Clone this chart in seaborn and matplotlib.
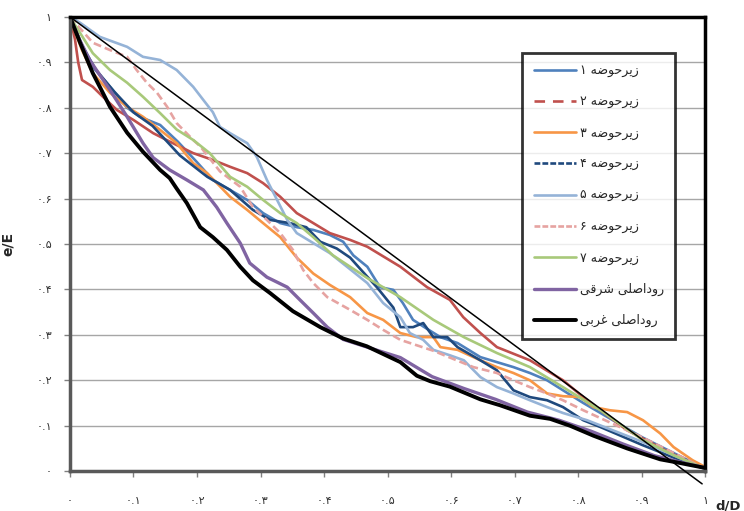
import matplotlib
matplotlib.use('Agg')
import matplotlib.pyplot as plt
from matplotlib.lines import Line2D
import seaborn as sns

# Series, x = d/D, y = e/E
x_s1 = [0, 0.018, 0.036, 0.063, 0.09, 0.11, 0.142, 0.17, 0.2, 0.225, 0.252, 0.279, 0.304, 0.331, 0.357,
        0.383, 0.409, 0.43, 0.446, 0.468, 0.488, 0.509, 0.524, 0.54, 0.56, 0.583, 0.61, 0.646, 0.698,
        0.724, 0.751, 0.776, 0.808, 0.835, 0.9, 0.95, 1.0]
y_s1 = [1, 0.94, 0.89, 0.846, 0.80, 0.78, 0.762, 0.725, 0.68, 0.641, 0.619, 0.597, 0.568, 0.546, 0.537,
        0.531, 0.52, 0.505, 0.475, 0.45, 0.405, 0.399, 0.37, 0.333, 0.315, 0.295, 0.282, 0.251, 0.229,
        0.216, 0.2, 0.178, 0.15, 0.128, 0.075, 0.04, 0.005]

x_s2 = [0, 0.008, 0.013, 0.019, 0.036, 0.052, 0.074, 0.1, 0.131, 0.162, 0.194, 0.225, 0.252, 0.279,
        0.304, 0.331, 0.357, 0.383, 0.409, 0.441, 0.468, 0.52, 0.562, 0.598, 0.619, 0.646, 0.672, 0.724,
        0.776, 0.814, 0.835, 0.877, 0.945, 1.0]
y_s2 = [1, 0.95, 0.9, 0.861, 0.846, 0.824, 0.795, 0.773, 0.744, 0.722, 0.70, 0.685, 0.67, 0.656,
        0.634, 0.604, 0.568, 0.546, 0.524, 0.509, 0.494, 0.45, 0.405, 0.377, 0.339, 0.304, 0.273, 0.244,
        0.2, 0.156, 0.134, 0.09, 0.04, 0.005]

x_s3 = [0, 0.018, 0.036, 0.063, 0.09, 0.115, 0.142, 0.168, 0.194, 0.216, 0.252, 0.279, 0.304, 0.331,
        0.357, 0.383, 0.409, 0.441, 0.468, 0.493, 0.52, 0.546, 0.572, 0.583, 0.61, 0.646, 0.672, 0.698,
        0.724, 0.751, 0.776, 0.803, 0.824, 0.85, 0.877, 0.902, 0.929, 0.95, 0.98, 1.0]
y_s3 = [1, 0.93, 0.876, 0.833, 0.802, 0.78, 0.751, 0.722, 0.678, 0.656, 0.604, 0.575, 0.546, 0.515,
        0.47, 0.435, 0.41, 0.383, 0.348, 0.333, 0.304, 0.295, 0.295, 0.273, 0.267, 0.244, 0.229, 0.216,
        0.2, 0.171, 0.165, 0.163, 0.141, 0.134, 0.13, 0.112, 0.083, 0.053, 0.024, 0.009]

x_s4 = [0, 0.02, 0.04, 0.07, 0.1, 0.13, 0.173, 0.216, 0.252, 0.288, 0.315, 0.346, 0.372, 0.394, 0.42,
        0.441, 0.457, 0.483, 0.509, 0.52, 0.54, 0.556, 0.572, 0.594, 0.61, 0.646, 0.672, 0.698, 0.724,
        0.751, 0.776, 0.808, 0.835, 0.9, 0.95, 1.0]
y_s4 = [1, 0.935, 0.885, 0.835, 0.79, 0.76, 0.695, 0.648, 0.619, 0.575, 0.553, 0.546, 0.537, 0.505, 0.49,
        0.47, 0.445, 0.405, 0.36, 0.317, 0.317, 0.326, 0.295, 0.295, 0.273, 0.244, 0.222, 0.178, 0.163,
        0.156, 0.141, 0.112, 0.097, 0.058, 0.03, 0.005]

x_s5 = [0, 0.016, 0.047, 0.09, 0.115, 0.142, 0.168, 0.194, 0.21, 0.225, 0.236, 0.252, 0.279, 0.294,
        0.31, 0.326, 0.342, 0.357, 0.383, 0.409, 0.436, 0.468, 0.493, 0.52, 0.535, 0.556, 0.572, 0.598,
        0.62, 0.646, 0.672, 0.698, 0.724, 0.751, 0.776, 0.814, 0.9, 0.95, 1.0]
y_s5 = [1, 0.987, 0.956, 0.934, 0.912, 0.905, 0.883, 0.846, 0.817, 0.79, 0.758, 0.744, 0.722, 0.692,
        0.641, 0.597, 0.553, 0.524, 0.502, 0.48, 0.45, 0.414, 0.37, 0.339, 0.304, 0.289, 0.267, 0.255,
        0.244, 0.207, 0.185, 0.171, 0.156, 0.141, 0.128, 0.112, 0.065, 0.035, 0.005]

x_s6 = [0, 0.036, 0.063, 0.09, 0.105, 0.121, 0.137, 0.153, 0.168, 0.194, 0.205, 0.236, 0.268, 0.288,
        0.31, 0.331, 0.351, 0.367, 0.383, 0.405, 0.441, 0.468, 0.493, 0.52, 0.572, 0.598, 0.635, 0.672,
        0.698, 0.724, 0.751, 0.776, 0.808, 0.9, 0.95, 1.0]
y_s6 = [1, 0.943, 0.927, 0.912, 0.883, 0.855, 0.833, 0.802, 0.766, 0.729, 0.715, 0.66, 0.626, 0.581,
        0.553, 0.524, 0.487, 0.443, 0.414, 0.383, 0.355, 0.333, 0.311, 0.289, 0.265, 0.25, 0.229, 0.216,
        0.2, 0.185, 0.171, 0.156, 0.134, 0.075, 0.04, 0.005]

x_s7 = [0, 0.036, 0.063, 0.09, 0.115, 0.142, 0.168, 0.194, 0.22, 0.252, 0.279, 0.304, 0.331, 0.357,
        0.383, 0.414, 0.441, 0.468, 0.52, 0.572, 0.62, 0.672, 0.724, 0.776, 0.835, 0.9, 0.95, 1.0]
y_s7 = [1, 0.92, 0.883, 0.855, 0.824, 0.788, 0.752, 0.729, 0.70, 0.648, 0.626, 0.597, 0.568, 0.546,
        0.515, 0.475, 0.45, 0.425, 0.383, 0.333, 0.295, 0.26, 0.229, 0.185, 0.134, 0.07, 0.035, 0.005]

x_east = [0, 0.015, 0.031, 0.063, 0.09, 0.115, 0.131, 0.157, 0.184, 0.21, 0.231, 0.247, 0.268, 0.283,
          0.31, 0.342, 0.362, 0.383, 0.405, 0.43, 0.47, 0.52, 0.57, 0.62, 0.67, 0.72, 0.77, 0.82, 0.87,
          0.92, 0.96, 1.0]
y_east = [1, 0.95, 0.905, 0.839, 0.78, 0.722, 0.69, 0.663, 0.641, 0.619, 0.581, 0.546, 0.502, 0.458,
          0.427, 0.405, 0.377, 0.348, 0.317, 0.29, 0.272, 0.25, 0.208, 0.182, 0.158, 0.13, 0.112, 0.088,
          0.06, 0.034, 0.02, 0.007]

x_west = [0, 0.016, 0.036, 0.063, 0.09, 0.115, 0.142, 0.157, 0.168, 0.184, 0.205, 0.225, 0.247, 0.268,
          0.288, 0.315, 0.351, 0.394, 0.43, 0.467, 0.52, 0.546, 0.567, 0.598, 0.646, 0.677, 0.724, 0.756,
          0.787, 0.824, 0.877, 0.929, 0.96, 1.0]
y_west = [1, 0.943, 0.876, 0.802, 0.745, 0.703, 0.663, 0.645, 0.622, 0.59, 0.537, 0.515, 0.487, 0.45,
          0.42, 0.392, 0.352, 0.317, 0.292, 0.275, 0.24, 0.21, 0.198, 0.186, 0.158, 0.145, 0.122, 0.115,
          0.1, 0.078, 0.05, 0.026, 0.018, 0.007]

# reference diagonal, runs a bit past the x axis as in the original
diag_x = [0, 0.995]
diag_y = [1, -0.028]

labels = ['زیرحوضه ۱', 'زیرحوضه ۲', 'زیرحوضه ۳', 'زیرحوضه ۴', 'زیرحوضه ۵',
          'زیرحوضه ۶', 'زیرحوضه ۷', 'روداصلی شرقی', 'روداصلی غربی']
tick_values = [0, 0.1, 0.2, 0.3, 0.4, 0.5, 0.6, 0.7, 0.8, 0.9, 1.0]
tick_labels = ['۰', '۰.۱', '۰.۲', '۰.۳', '۰.۴', '۰.۵', '۰.۶', '۰.۷', '۰.۸', '۰.۹', '۱']

# Arabic presentation forms: (isolated, final[, initial, medial])
_FORMS = {
    'ا': ('\uFE8D', '\uFE8E'),
    'ب': ('\uFE8F', '\uFE90', '\uFE91', '\uFE92'),
    'ح': ('\uFEA1', '\uFEA2', '\uFEA3', '\uFEA4'),
    'د': ('\uFEA9', '\uFEAA'),
    'ر': ('\uFEAD', '\uFEAE'),
    'ز': ('\uFEAF', '\uFEB0'),
    'ش': ('\uFEB5', '\uFEB6', '\uFEB7', '\uFEB8'),
    'ص': ('\uFEB9', '\uFEBA', '\uFEBB', '\uFEBC'),
    'ض': ('\uFEBD', '\uFEBE', '\uFEBF', '\uFEC0'),
    'غ': ('\uFECD', '\uFECE', '\uFECF', '\uFED0'),
    'ق': ('\uFED5', '\uFED6', '\uFED7', '\uFED8'),
    'ل': ('\uFEDD', '\uFEDE', '\uFEDF', '\uFEE0'),
    'ه': ('\uFEE9', '\uFEEA', '\uFEEB', '\uFEEC'),
    'و': ('\uFEED', '\uFEEE'),
    'ی': ('\uFBFC', '\uFBFD', '\uFBFE', '\uFBFF'),
}


def rtl(text):
    # matplotlib has no shaping/bidi, so pick joined glyph forms and reverse
    out = []
    for i, ch in enumerate(text):
        forms = _FORMS.get(ch)
        if forms is None:
            out.append(ch)
            continue
        prev = text[i - 1] if i > 0 else ''
        nxt = text[i + 1] if i + 1 < len(text) else ''
        join_prev = prev in _FORMS and len(_FORMS[prev]) == 4
        join_next = len(forms) == 4 and nxt in _FORMS
        if join_prev and join_next:
            out.append(forms[3])
        elif join_next:
            out.append(forms[2])
        elif join_prev:
            out.append(forms[1])
        else:
            out.append(forms[0])
    return ''.join(reversed(out))


sns.set_theme(style="white")
plt.rcParams['font.family'] = ['DejaVu Sans']

series = [
    (x_s1, y_s1, '#4F81BD', 1.9, '-', '-'),
    (x_s2, y_s2, '#C0504D', 1.9, '-', (0, (4, 3))),
    (x_s3, y_s3, '#F79646', 1.9, '-', '-'),
    (x_s4, y_s4, '#1F497D', 1.9, '-', (0, (2.2, 0.8))),
    (x_s5, y_s5, '#95B3D7', 1.9, '-', '-'),
    (x_s6, y_s6, '#E6A3A1', 1.9, (0, (3, 1.5)), (0, (2.2, 0.8))),
    (x_s7, y_s7, '#A8C97A', 1.9, '-', '-'),
    (x_east, y_east, '#8064A2', 2.4, '-', '-'),
    (x_west, y_west, '#000000', 2.8, '-', '-'),
]

fig, ax = plt.subplots(figsize=(7.44, 5.11), dpi=100)
fig.subplots_adjust(left=0.094, right=0.948, top=0.967, bottom=0.078)

sns.lineplot(x=diag_x, y=diag_y, ax=ax, color='black', linewidth=1.1, clip_on=False, zorder=5)

handles = []
for (xs, ys, color, lw, ls, leg_ls), label in zip(series, labels):
    sns.lineplot(x=xs, y=ys, ax=ax, color=color, linewidth=lw, linestyle=ls,
                 estimator=None, sort=False)
    handles.append(Line2D([0], [0], color=color, linewidth=lw, linestyle=leg_ls))

ax.set_xlim(0, 1)
ax.set_ylim(0, 1)
ax.set_xticks(tick_values)
ax.set_xticklabels(tick_labels)
ax.set_yticks(tick_values)
ax.set_yticklabels(tick_labels)
ax.tick_params(axis='both', which='major', length=4, width=1, color='#808080',
               labelsize=8, labelcolor='#333333', direction='out')
ax.tick_params(axis='x', pad=14)
ax.tick_params(axis='y', pad=9)
ax.xaxis.set_ticks_position('bottom')
ax.yaxis.set_ticks_position('left')

ax.yaxis.grid(True, color='#A6A6A6', linewidth=1)
ax.xaxis.grid(False)
for side in ['left', 'bottom']:
    ax.spines[side].set_color('#595959')
    ax.spines[side].set_linewidth(2.5)
for side in ['top', 'right']:
    ax.spines[side].set_color('black')
    ax.spines[side].set_linewidth(2.5)

ax.set_xlabel('d/D', fontsize=9.5, fontweight='bold')
ax.xaxis.set_label_coords(1.036, -0.062)
ax.set_ylabel('e/E', fontsize=10, fontweight='bold')
ax.yaxis.set_label_coords(-0.087, 0.5)

leg = ax.legend(handles, [rtl(t) for t in labels], loc='upper left',
                bbox_to_anchor=(0.712, 0.921), fontsize=9, frameon=True, fancybox=False,
                handlelength=3.4, handletextpad=0.3, labelspacing=1.45, borderpad=0.9,
                borderaxespad=0)
leg.get_frame().set_edgecolor('black')
leg.get_frame().set_linewidth(2)
leg.set_zorder(10)

fig.savefig('out.png', dpi=100)
plt.close(fig)
